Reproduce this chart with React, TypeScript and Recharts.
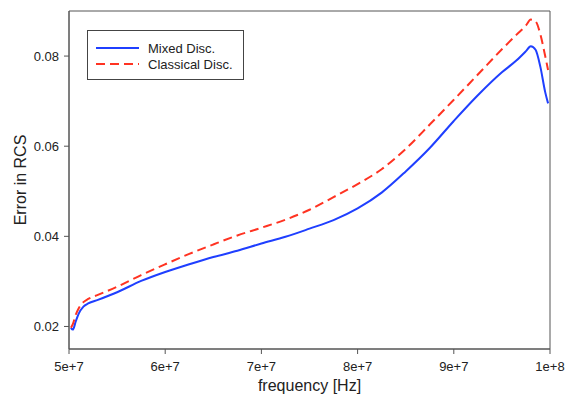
import {
  Legend,
  Line,
  LineChart,
  ReferenceArea,
  XAxis,
  YAxis,
} from "recharts";

// frequency samples in units of 1e7 Hz
const FREQ = [
  5.02, 5.04, 5.07, 5.1, 5.15, 5.2, 5.3, 5.5, 5.75, 6.0, 6.25, 6.5, 6.75, 7.0,
  7.25, 7.5, 7.75, 8.0, 8.25, 8.5, 8.75, 9.0, 9.25, 9.5, 9.65, 9.75, 9.8, 9.85,
  9.9, 9.95, 9.98,
];

const MIXED = [
  0.0197, 0.0193, 0.0211, 0.0228, 0.0244, 0.0251, 0.0259, 0.0276, 0.0301,
  0.0321, 0.0338, 0.0354, 0.0368, 0.0384, 0.0399, 0.0417, 0.0436, 0.0462,
  0.0497, 0.0544, 0.0596, 0.0656, 0.0713, 0.0764, 0.079, 0.0811, 0.0822,
  0.0814, 0.0776, 0.072, 0.0695,
];

const CLASSICAL = [
  0.0197, 0.0205, 0.0226, 0.024, 0.0254, 0.0261, 0.027, 0.0288, 0.0314,
  0.0338, 0.0361, 0.0382, 0.0402, 0.0419, 0.0437, 0.0459, 0.0487, 0.0516,
  0.0549, 0.0594, 0.0648, 0.0703, 0.0759, 0.0815, 0.0847, 0.0868, 0.0881,
  0.0877, 0.0848, 0.08, 0.0769,
];

const X_TICKS = [5e7, 6e7, 7e7, 8e7, 9e7, 1e8];
const X_TICK_LABELS = ["5e+7", "6e+7", "7e+7", "8e+7", "9e+7", "1e+8"];
const Y_TICKS = [0.02, 0.04, 0.06, 0.08];
const Y_TICK_LABELS = ["0.02", "0.04", "0.06", "0.08"];
const X_DOMAIN = [5e7, 1e8];
const Y_DOMAIN = [0.015, 0.09];

const SERIES_ORDER = ["Mixed Disc.", "Classical Disc."];

const COLORS = {
  mixed: "#1f3fff",
  classical: "#ff3322",
  axis: "#555555",
  text: "#222222",
};

const FONT = "Arial, 'Liberation Sans', Helvetica, sans-serif";

const data = FREQ.map((f, i) => ({
  freq: f * 1e7,
  mixed: MIXED[i],
  classical: CLASSICAL[i],
}));

function LegendBox({ payload }: any) {
  const items = [...(payload || [])].sort(
    (a: any, b: any) => SERIES_ORDER.indexOf(a.value) - SERIES_ORDER.indexOf(b.value)
  );
  return (
    <div
      style={{
        width: 157,
        height: 50,
        border: "1px solid #444",
        boxSizing: "border-box",
        background: "#fff",
        fontFamily: FONT,
        fontSize: 13,
        color: COLORS.text,
        paddingTop: 9,
      }}
    >
      {items.map((entry: any) => (
        <div
          key={entry.value}
          style={{ display: "flex", alignItems: "center", height: 16 }}
        >
          <svg width={60} height={16}>
            <line
              x1={8}
              x2={51}
              y1={8}
              y2={8}
              stroke={entry.color}
              strokeWidth={2}
              strokeDasharray={entry.payload?.strokeDasharray}
            />
          </svg>
          <span>{entry.value}</span>
        </div>
      ))}
    </div>
  );
}

export default function App() {
  return (
    <div style={{ position: "absolute", left: 0, top: 0, background: "#fff" }}>
      <LineChart
        width={565}
        height={402}
        data={data}
        margin={{ top: 11, right: 15, left: 0, bottom: 0 }}
        style={{ fontFamily: FONT }}
      >
        <XAxis
          dataKey="freq"
          type="number"
          domain={X_DOMAIN}
          ticks={X_TICKS}
          tickFormatter={(v: number) => X_TICK_LABELS[X_TICKS.indexOf(v)]}
          height={53}
          stroke={COLORS.axis}
          tickSize={5}
          tickMargin={8}
          tick={{ fill: COLORS.text, fontSize: 13 }}
          label={{
            value: "frequency [Hz]",
            position: "insideBottom",
            offset: 11,
            fill: COLORS.text,
            fontSize: 16,
          }}
        />
        <YAxis
          type="number"
          domain={Y_DOMAIN}
          ticks={Y_TICKS}
          tickFormatter={(v: number) => Y_TICK_LABELS[Y_TICKS.indexOf(v)]}
          width={69}
          stroke={COLORS.axis}
          tickSize={5}
          tickMargin={5}
          tick={{ fill: COLORS.text, fontSize: 13 }}
          label={{
            value: "Error in RCS",
            angle: -90,
            position: "insideLeft",
            offset: 20,
            fill: COLORS.text,
            fontSize: 16,
            style: { textAnchor: "middle" },
          }}
        />
        {/* plot frame */}
        <ReferenceArea
          x1={X_DOMAIN[0]}
          x2={X_DOMAIN[1]}
          y1={Y_DOMAIN[0]}
          y2={Y_DOMAIN[1]}
          fill="none"
          fillOpacity={0}
          stroke={COLORS.axis}
          strokeWidth={1}
        />
        <Legend
          layout="vertical"
          align="center"
          verticalAlign="middle"
          content={<LegendBox />}
          wrapperStyle={{ left: 87, top: 30, width: 157, height: 50 }}
        />
        <Line
          type="monotone"
          dataKey="mixed"
          name="Mixed Disc."
          stroke={COLORS.mixed}
          strokeWidth={2}
          dot={false}
          isAnimationActive={false}
        />
        <Line
          type="monotone"
          dataKey="classical"
          name="Classical Disc."
          stroke={COLORS.classical}
          strokeWidth={2}
          strokeDasharray="9 5"
          dot={false}
          isAnimationActive={false}
        />
      </LineChart>
    </div>
  );
}
